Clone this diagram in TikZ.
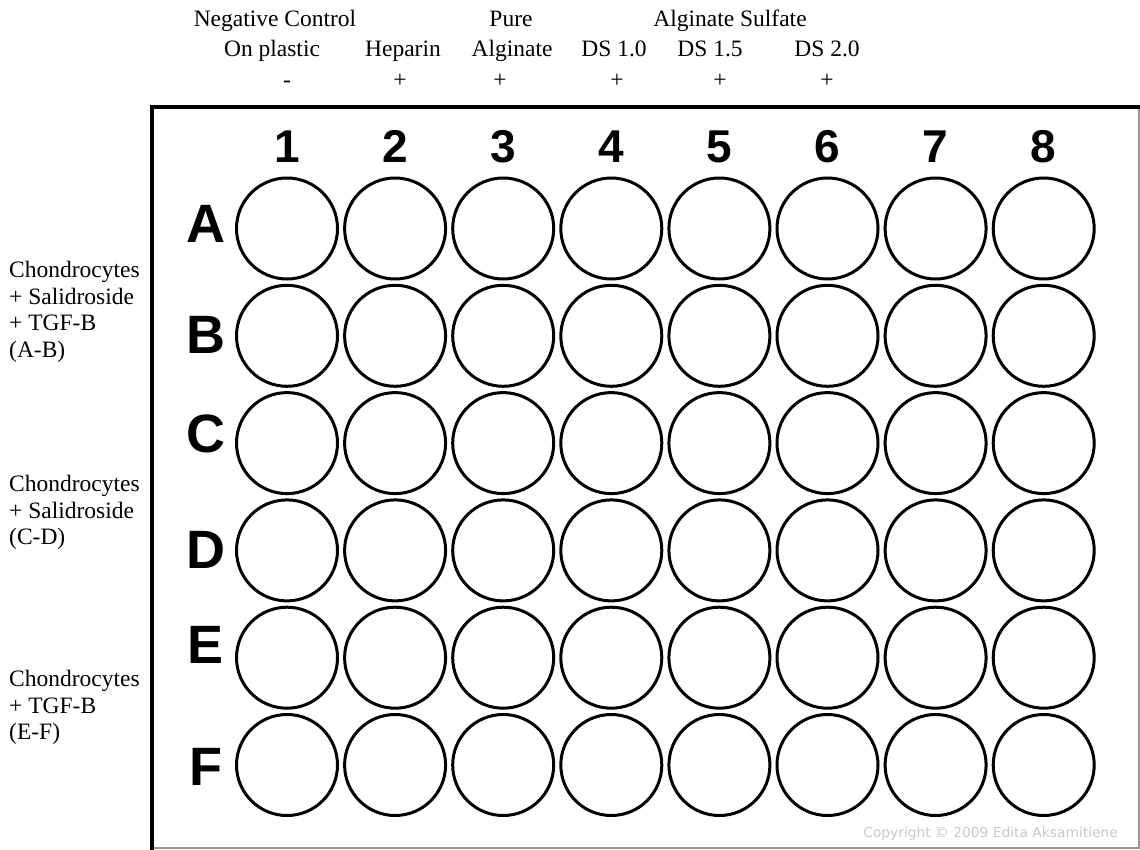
\documentclass[tikz,border=0pt]{standalone}
\usepackage{fontspec}
\setmainfont{Liberation Serif}
\newfontfamily\platefont{Liberation Sans}
\newfontfamily\notefont{DejaVu Sans}
\usepackage{tikz}
\usetikzlibrary{positioning}
\usepackage{xcolor}
\definecolor{rimgray}{RGB}{150, 150, 150}
\definecolor{notegray}{RGB}{200, 200, 200}

\begin{document}
\begin{tikzpicture}[
  x=1pt, y=-1pt,
  well/.style={draw, circle, line width=3pt, minimum size=101pt, inner sep=0pt},
  colnum/.style={anchor=base, inner sep=0pt,
                 font=\platefont\bfseries\fontsize{46}{46}\selectfont},
  rowlet/.style={anchor=base, inner sep=0pt,
                 font=\platefont\bfseries\fontsize{54}{54}\selectfont},
  head/.style={anchor=base, inner sep=0pt, font=\rmfamily\fontsize{23.5}{26}\selectfont},
  cond/.style={anchor=north west, align=left, inner sep=0pt,
               font=\rmfamily\fontsize{23.5}{26.5}\selectfont}
]
  \useasboundingbox (0,0) rectangle (1140,850);

  % plate frame
  \draw[rimgray, line width=1.2pt] (152,107) rectangle (1139,848);
  \draw[line width=3.5pt] (152,852) -- (152,107) -- (1141,107);

  % column heads
  \node[head] (neg)     at (275,27) {Negative Control};
  \node[head] (pure)    at (511,27) {Pure};
  \node[head] (sulf)    at (730,27) {Alginate Sulfate};
  \node[head] (plastic) at (272,57) {On plastic};
  \node[head] (hep)     at (403,57) {Heparin};
  \node[head] (alg)     at (512,57) {Alginate};
  \node[head] (ds10)    at (614,57) {DS 1.0};
  \node[head] (ds15)    at (710,57) {DS 1.5};
  \node[head] (ds20)    at (827,57) {DS 2.0};
  \node[head] (sgn1) at (287,88) {-};
  \node[head] (sgn2) at (400,88) {+};
  \node[head] (sgn3) at (500,88) {+};
  \node[head] (sgn4) at (617,88) {+};
  \node[head] (sgn5) at (720,88) {+};
  \node[head] (sgn6) at (827,88) {+};

  % row groups
  \node[cond] (grpAB) at (9,261) {Chondrocytes\\+ Salidroside\\+ TGF-B\\(A-B)};
  \node[cond] (grpCD) at (9,475) {Chondrocytes\\+ Salidroside\\(C-D)};
  \node[cond] (grpEF) at (9,670) {Chondrocytes\\+ TGF-B\\(E-F)};

  % plate
  \foreach \c in {1,...,8}
    \node[colnum] (col-\c) at ({287+108.1*(\c-1)},163) {\c};
  \foreach \r/\b [count=\i] in {A/243,B/353,C/452,D/568,E/663,F/785} {
    \node[rowlet] (row-\r) at (206,\b) {\r};
    \foreach \c in {1,...,8}
      \node[well] (well-\r\c) at ({287+108.1*(\c-1)},{228.5+107.3*(\i-1)}) {};
  }

  \node[anchor=base east, inner sep=0pt, text=notegray,
        font=\notefont\fontsize{13.8}{13.8}\selectfont] (copy) at (1118,837)
    {Copyright © 2009 Edita Aksamitiene};
\end{tikzpicture}
\end{document}
